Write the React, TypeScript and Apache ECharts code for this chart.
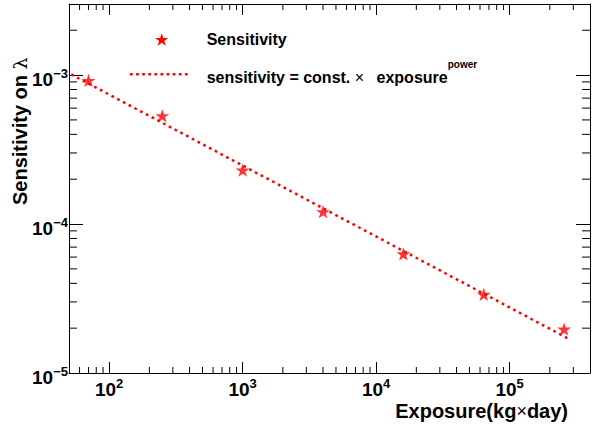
import React, { useEffect, useRef } from "react";
import * as echarts from "echarts";

// Measured points (exposure in kg×day, sensitivity on lambda)
const exposure = [70, 250, 1000, 4000, 16000, 64000, 256000];
const sensitivity = [9.2e-4, 5.33e-4, 2.3e-4, 1.21e-4, 6.3e-5, 3.37e-5, 1.97e-5];

// Power-law fit line end points
const fitExposure = [52, 272000];
const fitSensitivity = [1.01e-3, 1.71e-5];

// Axis ranges
const X_MIN = 50;
const X_MAX = 400000;
const Y_MIN = 1e-5;
const Y_MAX = 3e-3;

// Minor tick values (log axes)
const xMinorTicks = [
  60, 70, 80, 90,
  200, 300, 400, 500, 600, 700, 800, 900,
  2000, 3000, 4000, 5000, 6000, 7000, 8000, 9000,
  20000, 30000, 40000, 50000, 60000, 70000, 80000, 90000,
  200000, 300000,
];
const yMinorTicks = [
  2e-5, 3e-5, 4e-5, 5e-5, 6e-5, 7e-5, 8e-5, 9e-5,
  2e-4, 3e-4, 4e-4, 5e-4, 6e-4, 7e-4, 8e-4, 9e-4,
  2e-3,
];

const legendLabels = ["Sensitivity", "sensitivity = const. × exposure^power"];

const FONT = "'Liberation Sans', Arial, Helvetica, sans-serif";
const RED = "#ff0000";

const STAR_PATH =
  "path://M10 0 L12.245 6.91 L19.511 6.91 L13.633 11.18 L15.878 18.09 L10 13.82 L4.122 18.09 L6.367 11.18 L0.489 6.91 L7.755 6.91 Z";

function starPoints(cx: number, cy: number, r: number): number[][] {
  const pts: number[][] = [];
  for (let i = 0; i < 10; i++) {
    const rr = i % 2 === 0 ? r : r * 0.382;
    const a = -Math.PI / 2 + (i * Math.PI) / 5;
    pts.push([cx + rr * Math.cos(a), cy + rr * Math.sin(a)]);
  }
  return pts;
}

const powFormatter = (v: number) => {
  const l = Math.log10(v);
  const e = Math.round(l);
  if (Math.abs(l - e) > 1e-6) return "";
  return `{b|10}{s|${e < 0 ? "−" : ""}${Math.abs(e)}}`;
};

const labelRich = {
  b: {
    fontFamily: FONT,
    fontSize: 19,
    fontWeight: "bold",
    color: "#000",
    lineHeight: 22,
    verticalAlign: "bottom",
  },
  s: {
    fontFamily: FONT,
    fontSize: 13,
    fontWeight: "bold",
    color: "#000",
    lineHeight: 12,
    verticalAlign: "top",
  },
};

export default function App() {
  const ref = useRef<HTMLDivElement>(null);

  useEffect(() => {
    document.body.style.margin = "0";
    if (!ref.current) return;
    const chart = echarts.init(ref.current, null, { renderer: "svg" });

    const baseX = {
      type: "log",
      logBase: 10,
      min: X_MIN,
      max: X_MAX,
      axisLine: { show: true, onZero: false, lineStyle: { color: "#000", width: 1 } },
      axisTick: { show: true, inside: true, length: 11, lineStyle: { color: "#000", width: 1 } },
      splitLine: { show: false },
      minorTick: { show: false },
    };
    const baseY = {
      type: "log",
      logBase: 10,
      min: Y_MIN,
      max: Y_MAX,
      axisLine: { show: true, onZero: false, lineStyle: { color: "#000", width: 1 } },
      axisTick: { show: true, inside: true, length: 14, lineStyle: { color: "#000", width: 1 } },
      splitLine: { show: false },
      minorTick: { show: false },
    };

    const option: any = {
      animation: false,
      backgroundColor: "#fff",
      grid: { left: 69, right: -2, top: 4, bottom: 55, containLabel: false },
      xAxis: [
        {
          ...baseX,
          position: "bottom",
          axisLabel: {
            show: true,
            margin: 4,
            formatter: powFormatter,
            rich: labelRich,
            showMinLabel: true,
            showMaxLabel: true,
          },
        },
        { ...baseX, position: "top", axisLabel: { show: false } },
      ],
      yAxis: [
        {
          ...baseY,
          position: "left",
          axisLabel: {
            show: true,
            margin: 1,
            padding: [6, 0, 0, 0],
            formatter: powFormatter,
            rich: labelRich,
          },
        },
        { ...baseY, position: "right", axisLabel: { show: false } },
      ],
      series: [
        {
          name: legendLabels[1],
          type: "line",
          data: fitExposure.map((x, i) => [x, fitSensitivity[i]]),
          showSymbol: false,
          symbol: "none",
          lineStyle: { color: RED, width: 2.5, type: [2.7, 3.8], cap: "butt" },
          z: 2,
        },
        {
          name: legendLabels[0],
          type: "scatter",
          data: exposure.map((x, i) => [x, sensitivity[i]]),
          symbol: STAR_PATH,
          symbolSize: [14, 13.3],
          itemStyle: { color: RED },
          z: 3,
        },
        {
          type: "custom",
          silent: true,
          clip: false,
          data: xMinorTicks.map((v) => [v, Y_MIN]),
          renderItem: (_p: any, api: any) => {
            const v = api.value(0);
            const b = api.coord([v, Y_MIN]);
            const t = api.coord([v, Y_MAX]);
            return {
              type: "group",
              children: [
                { type: "line", shape: { x1: b[0], y1: b[1], x2: b[0], y2: b[1] - 6 }, style: { stroke: "#000", lineWidth: 1 } },
                { type: "line", shape: { x1: t[0], y1: t[1], x2: t[0], y2: t[1] + 6 }, style: { stroke: "#000", lineWidth: 1 } },
              ],
            };
          },
        },
        {
          type: "custom",
          silent: true,
          clip: false,
          data: yMinorTicks.map((v) => [X_MIN, v]),
          renderItem: (_p: any, api: any) => {
            const v = api.value(1);
            const l = api.coord([X_MIN, v]);
            const r = api.coord([X_MAX, v]);
            return {
              type: "group",
              children: [
                { type: "line", shape: { x1: l[0], y1: l[1], x2: l[0] + 8, y2: l[1] }, style: { stroke: "#000", lineWidth: 1 } },
                { type: "line", shape: { x1: r[0], y1: r[1], x2: r[0] - 8, y2: r[1] }, style: { stroke: "#000", lineWidth: 1 } },
              ],
            };
          },
        },
      ],
      graphic: [
        // Legend: star entry
        {
          type: "polygon",
          shape: { points: starPoints(161.7, 40.2, 7) },
          style: { fill: RED },
        },
        {
          type: "text",
          x: 206.7,
          y: 39.5,
          style: {
            text: legendLabels[0],
            font: `bold 16px ${FONT}`,
            fill: "#000",
            textAlign: "left",
            textVerticalAlign: "middle",
            align: "left",
            verticalAlign: "middle",
          },
        },
        // Legend: fit line entry
        {
          type: "line",
          shape: { x1: 130, y1: 74.3, x2: 191, y2: 74.3 },
          style: { stroke: RED, lineWidth: 2.5, lineDash: [2.7, 3.4] },
        },
        {
          type: "text",
          x: 206.7,
          y: 72,
          style: {
            text: "{b|sensitivity = const. }{x|×}{b| exposure}{s|power}",
            textAlign: "left",
            textVerticalAlign: "middle",
            align: "left",
            verticalAlign: "middle",
            rich: {
              b: { fontFamily: FONT, fontSize: 16, fontWeight: "bold", fill: "#000", lineHeight: 26, verticalAlign: "bottom" },
              x: { fontFamily: FONT, fontSize: 16, fontWeight: "normal", fill: "#000", lineHeight: 26, verticalAlign: "bottom", padding: [0, 8, 0, 0] },
              s: { fontFamily: FONT, fontSize: 10, fontWeight: "bold", fill: "#000", lineHeight: 10, verticalAlign: "top" },
            },
          },
        },
        // X axis title
        {
          type: "text",
          x: 568,
          y: 411,
          style: {
            text: "{t|Exposure(kg}{x|×}{t|day)}",
            textAlign: "right",
            textVerticalAlign: "middle",
            align: "right",
            verticalAlign: "middle",
            rich: {
              t: { fontFamily: FONT, fontSize: 20, fontWeight: "bold", fill: "#000" },
              x: { fontFamily: FONT, fontSize: 18, fontWeight: "normal", fill: "#000" },
            },
          },
        },
        // Y axis title
        {
          type: "text",
          x: 20,
          y: 205,
          rotation: Math.PI / 2,
          style: {
            text: "{t|Sensitivity on }{l|λ}",
            textAlign: "left",
            textVerticalAlign: "middle",
            align: "left",
            verticalAlign: "middle",
            rich: {
              t: { fontFamily: FONT, fontSize: 20, fontWeight: "bold", fill: "#000" },
              l: { fontFamily: "'DejaVu Serif', 'Liberation Serif', serif", fontSize: 19, fontWeight: "normal", fill: "#000" },
            },
          },
        },
      ],
    };

    chart.setOption(option);
    return () => chart.dispose();
  }, []);

  return <div ref={ref} style={{ width: 593, height: 428, background: "#fff" }} />;
}
